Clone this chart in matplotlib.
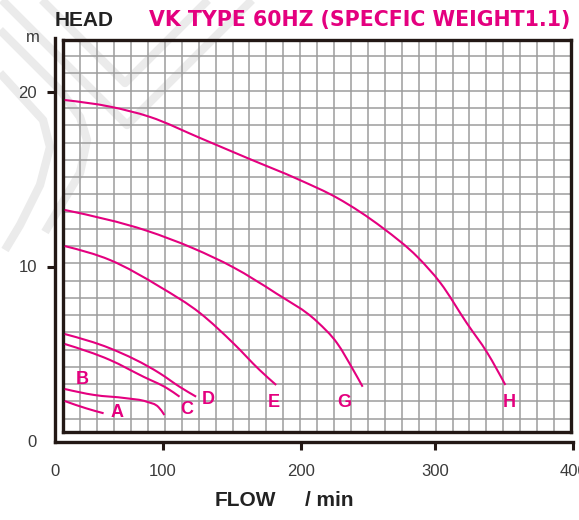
import numpy as np
import matplotlib
matplotlib.use("Agg")
import matplotlib.pyplot as plt
from matplotlib.lines import Line2D
from matplotlib.path import Path
from matplotlib.patches import PathPatch

# ---------------- data ----------------
flow_ticks = [0, 100, 200, 300, 400]
head_ticks = [0, 10, 20]

A_flow = [9, 29, 45]
A_head = [2.29, 1.87, 1.59]
B_flow = [9, 36, 66, 85, 96, 101]
B_head = [2.98, 2.64, 2.45, 2.25, 1.93, 1.49]
C_flow = [9, 51, 82, 103, 112]
C_head = [5.56, 4.64, 3.68, 3.02, 2.54]
D_flow = [9, 51, 97, 112, 124]
D_head = [6.13, 5.31, 3.88, 3.11, 2.54]
E_flow = [9, 51, 97, 127, 151, 170, 182]
E_head = [11.17, 10.37, 8.84, 7.32, 5.60, 4.07, 3.21]
G_flow = [9, 85, 122, 151, 182, 212, 227, 239, 246]
G_head = [13.24, 12.05, 11.04, 9.95, 8.46, 6.84, 5.60, 4.07, 3.11]
H_flow = [9, 51, 88, 127, 161, 199, 227, 261, 287, 304, 323, 338, 351]
H_head = [19.54, 19.16, 18.57, 17.36, 16.22, 14.96, 13.93, 12.21,
          10.54, 9.05, 6.76, 5.04, 3.21]

curve_names = ["A", "B", "C", "D", "E", "G", "H"]
curves = {"A": (A_flow, A_head), "B": (B_flow, B_head), "C": (C_flow, C_head),
          "D": (D_flow, D_head), "E": (E_flow, E_head), "G": (G_flow, G_head),
          "H": (H_flow, H_head)}
# label anchor (flow, head)
label_pos = {"A": (57, 1.66), "B": (25, 3.5), "C": (117, 1.83), "D": (133, 2.35),
             "E": (180, 2.18), "G": (232, 2.23), "H": (354, 2.18)}

title_left = "HEAD"
title_right = "VK TYPE 60HZ (SPECFIC WEIGHT1.1)"

# ---------------- style ----------------
MAGENTA = "#E4007F"
DARK = "#231815"
GRIDC = "#9c9c9c"
FONT = "Liberation Sans"
W, H = 579, 520

# non-uniform flow axis of the original sheet
_xp = np.array([0.0, 100.0, 200.0, 300.0, 400.0])
_fp = np.array([0.0, 108.0, 246.0, 380.0, 518.0])


def fwd(x):
    x = np.asarray(x, dtype=float)
    y = np.interp(x, _xp, _fp)
    y = np.where(x < 0, x * 1.08, y)
    y = np.where(x > 400, 518 + (x - 400) * 1.38, y)
    return y


def inv(y):
    y = np.asarray(y, dtype=float)
    x = np.interp(y, _fp, _xp)
    x = np.where(y < 0, y / 1.08, x)
    x = np.where(y > 518, 400 + (y - 518) / 1.38, x)
    return x


def smooth_path(xs, ys):
    """Cubic Hermite curve through the read points (as Bezier path)."""
    u = fwd(np.asarray(xs, float))
    v = np.asarray(ys, float)
    n = len(u)
    h = np.diff(u)
    d = np.diff(v) / h
    m = np.zeros(n)
    if n == 2:
        m[:] = d[0]
    else:
        for i in range(1, n - 1):
            m[i] = (d[i - 1] * h[i] + d[i] * h[i - 1]) / (h[i - 1] + h[i])
        m[0] = 1.5 * d[0] - 0.5 * m[1]
        m[-1] = 1.5 * d[-1] - 0.5 * m[-2]
    verts = [(u[0], v[0])]
    codes = [Path.MOVETO]
    for i in range(n - 1):
        t = h[i] / 3.0
        verts += [(u[i] + t, v[i] + m[i] * t),
                  (u[i + 1] - t, v[i + 1] - m[i + 1] * t),
                  (u[i + 1], v[i + 1])]
        codes += [Path.CURVE4] * 3
    V = np.array(verts)
    V[:, 0] = inv(V[:, 0])
    return Path(V, codes)


def fx(px):
    return px / W


def fy(py):
    return 1 - py / H


fig = plt.figure(figsize=(W / 100, H / 100), dpi=100)
fig.patch.set_facecolor("white")

# watermark (light grey bands)
wm = [
    [(2, 0), (127, 125), (252, 0)],
    [(42, 0), (125, 83), (208, 0)],
    [(0, 30), (60, 90), (80, 117), (87, 140), (80, 173), (67, 195), (45, 232)],
    [(0, 73), (43, 120), (50, 147), (40, 185), (20, 225), (5, 250)],
]
for pts in wm:
    xs = [fx(p[0]) for p in pts]
    ys = [fy(p[1]) for p in pts]
    fig.add_artist(Line2D(xs, ys, color="#ebebeb", lw=6, zorder=-5,
                          solid_joinstyle="round", solid_capstyle="butt"))

# grid box axes
gl, gr, gb, gt = 63.3, 571.0, 432.0, 40.0
axg = fig.add_axes([fx(gl), fy(gb), (gr - gl) / W, (gb - gt) / H])
axg.set_facecolor("none")
ncols = 30
cell_h = 17.26
nrows = (gb - gt) / cell_h
axg.set_xlim(0, ncols)
axg.set_ylim(0, nrows)
for i in range(1, ncols):
    axg.axvline(i, color=GRIDC, lw=1.1, zorder=1)
off = 13.3 / cell_h
k = 0
while off + k < nrows - 0.3:
    axg.axhline(off + k, color=GRIDC, lw=1.1, zorder=1)
    k += 1
for s in axg.spines.values():
    s.set_linewidth(2.4)
    s.set_color(DARK)
    s.set_zorder(3)
axg.set_xticks([])
axg.set_yticks([])
axg.set_zorder(1)

# main axes
al, ar, ab, at = 55.0, 573.0, 442.0, 38.0
ax = fig.add_axes([fx(al), fy(ab), (ar - al) / W, (ab - at) / H])
ax.set_facecolor("none")
ax.set_zorder(2)
ax.set_xscale("function", functions=(fwd, inv))
ypx = 17.45
ax.set_xlim(0, 400)
ax.set_ylim((441 - ab) / ypx, (441 - at) / ypx)

for name in curve_names:
    xs, ys = curves[name]
    ax.add_patch(PathPatch(smooth_path(xs, ys), facecolor="none",
                           edgecolor=MAGENTA, lw=1.5, capstyle="butt",
                           zorder=4))
    lx, ly = label_pos[name]
    ax.text(lx, ly, name, color=MAGENTA, fontsize=13, fontweight="bold",
            family=FONT, ha="center", va="center", zorder=5)

for s in ["top", "right"]:
    ax.spines[s].set_visible(False)
for s in ["left", "bottom"]:
    ax.spines[s].set_linewidth(2.4)
    ax.spines[s].set_color(DARK)

ax.set_xticks(flow_ticks)
ax.set_xticklabels([str(v) for v in flow_ticks])
ax.set_yticks(head_ticks)
ax.set_yticklabels([str(v) for v in head_ticks])
ax.xaxis.set_minor_locator(matplotlib.ticker.NullLocator())
ax.tick_params(axis="both", direction="out", length=6, width=2.2, color=DARK,
               labelsize=12, labelcolor="#3a3a3a")
ax.tick_params(axis="x", pad=10)
ax.tick_params(axis="y", pad=7)
for lab in ax.get_xticklabels() + ax.get_yticklabels():
    lab.set_family(FONT)
ax.xaxis.get_major_ticks()[0].tick1line.set_visible(False)
ax.yaxis.get_major_ticks()[0].tick1line.set_visible(False)

# texts
fig.text(fx(55), fy(20), title_left, fontsize=15, fontweight="bold",
         family=FONT, color="#222222", ha="left", va="center")
fig.text(fx(149), fy(20), title_right, fontsize=14.8, fontweight="bold",
         family="DejaVu Sans", color=MAGENTA, ha="left", va="center")
fig.text(fx(33), fy(37), "m", fontsize=12, family=FONT, color="#3a3a3a",
         ha="center", va="center")
fig.text(fx(215), fy(501), "FLOW", fontsize=15, fontweight="bold",
         family=FONT, color="#222222", ha="left", va="center")
fig.text(fx(305), fy(501), "/ min", fontsize=15, fontweight="bold",
         family=FONT, color="#222222", ha="left", va="center")

fig.savefig("out.png", dpi=100)
